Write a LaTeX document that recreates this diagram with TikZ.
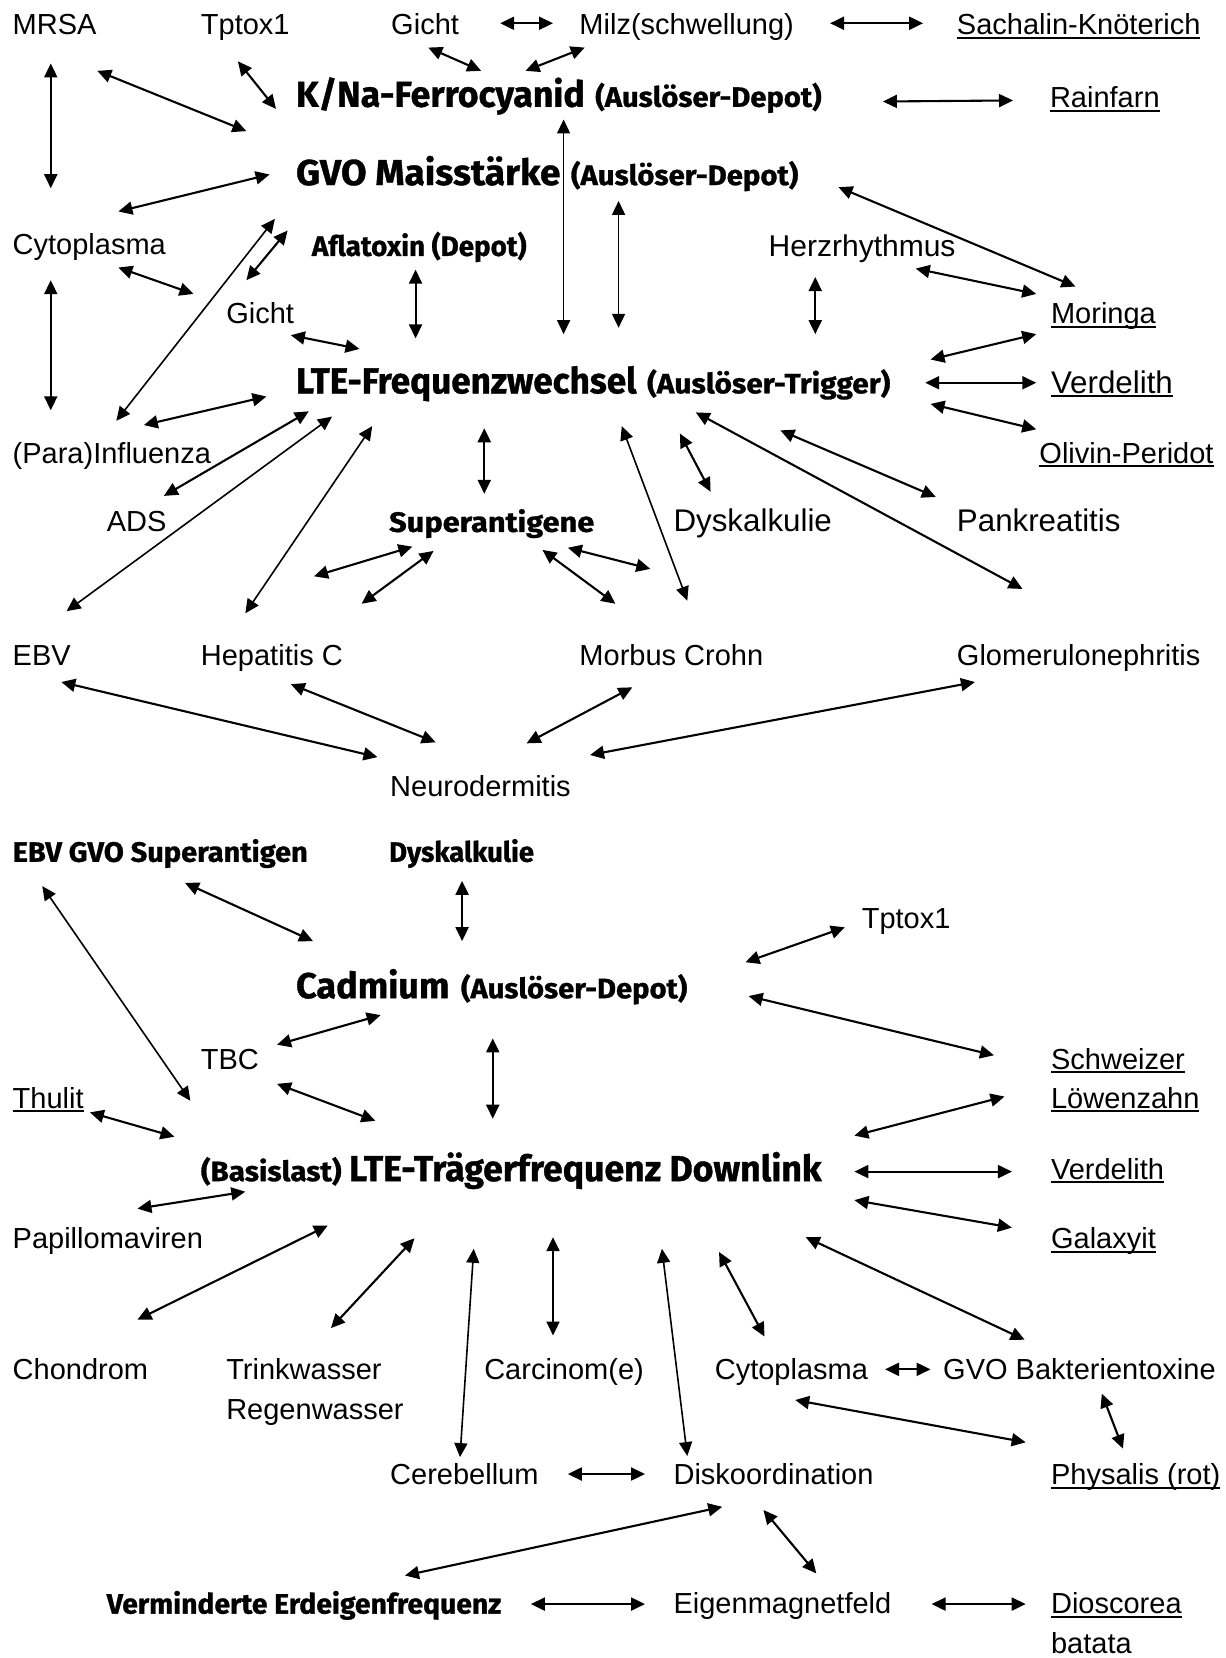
\documentclass[tikz,border=0pt]{standalone}
\usepackage{fontspec}
\setmainfont{Liberation Sans}
\newfontfamily\boldfam{Fira Sans}[BoldFeatures={FakeBold=1}]
\usepackage{graphicx}
\usetikzlibrary{arrows.meta}
\newdimen\du \du=1.057pt
\newcommand\myul[1]{\setbox0\hbox{#1}\rlap{\rule[-4pt]{\wd0}{2pt}}\box0}
\newcommand\bigb[2]{\resizebox{#1\du}{\height}{\boldfam\bfseries\fontsize{36}{40}\selectfont #2}}
\newcommand\smb[2]{\resizebox{#1\du}{\height}{\boldfam\bfseries\fontsize{28}{31}\selectfont #2}}
\newcommand\mknode[5]{\node[#1] (#2) at (#3,#4) {#5};%
  \expandafter\def\csname pxX#2\endcsname{#3}\expandafter\def\csname pyX#2\endcsname{#4}}
\newcommand\ep[3]{([shift={(#2-\csname pxX#1\endcsname,#3-\csname pyX#1\endcsname)}]#1.base west)}
\begin{document}
\begin{tikzpicture}[x=1.057pt,y=-1.057pt,
  lab/.style={anchor=base west,inner sep=0pt,outer sep=0pt,font={\fontsize{29}{35}\selectfont}},
  labw/.style={lab,font={\fontsize{31.3}{35}\selectfont}},
  labm/.style={lab,font={\fontsize{30}{35}\selectfont}},
  blab/.style={anchor=base west,inner sep=0pt,outer sep=0pt},
  arr/.style={{Triangle[length=14pt,width=13pt]}-{Triangle[length=14pt,width=13pt]},line width=2.1pt},
  arrt/.style={arr,line width=1.6pt}]
\fill[white] (0,0) rectangle (1159,1568);
\useasboundingbox (0,0) rectangle (1159,1568);
% ---------- upper part ----------
\mknode{lab}{mrsa}{12}{33}{MRSA}
\mknode{lab}{tptox}{190}{33}{Tptox1}
\mknode{lab}{gicht1}{370}{33}{Gicht}
\mknode{lab}{milz}{548}{33}{Milz(schwellung)}
\mknode{lab}{sach}{905}{33}{\myul{Sachalin-Knöterich}}
\mknode{blab}{kna}{280}{101}{\bigb{273}{K/Na-Ferrocyanid}\hspace{10\du}\smb{214}{(Auslöser-Depot)}}
\mknode{lab}{rain}{993}{102}{\myul{Rainfarn}}
\mknode{blab}{gvo}{280}{175}{\bigb{250}{GVO Maisstärke}\hspace{10\du}\smb{215}{(Auslöser-Depot)}}
\mknode{lab}{cyto1}{12}{241}{Cytoplasma}
\mknode{blab}{afla}{295}{242}{\smb{203}{Aflatoxin (Depot)}}
\mknode{labm}{herz}{727}{243}{Herzrhythmus}
\mknode{lab}{gicht2}{214}{306}{Gicht}
\mknode{lab}{moringa}{994}{306}{\myul{Moringa}}
\mknode{blab}{lte1}{280}{372}{\bigb{322}{LTE-Frequenzwechsel}\hspace{10\du}\smb{230}{(Auslöser-Trigger)}}
\mknode{labw}{verd1}{994}{372}{\myul{Verdelith}}
\mknode{lab}{para}{12}{438}{(Para)Influenza}
\mknode{lab}{olivin}{983}{438}{\myul{Olivin-Peridot}}
\mknode{lab}{ads}{101}{503}{ADS}
\mknode{blab}{super}{368}{503}{\smb{194}{Superantigene}}
\mknode{labw}{dysk1}{637}{503}{Dyskalkulie}
\mknode{labw}{pank}{905}{503}{Pankreatitis}
\mknode{lab}{ebv}{12}{629}{EBV}
\mknode{lab}{hepc}{190}{629}{Hepatitis C}
\mknode{lab}{morbus}{548}{629}{Morbus Crohn}
\mknode{lab}{glom}{905}{629}{Glomerulonephritis}
\mknode{lab}{neuro}{369}{753}{Neurodermitis}
\coordinate (f1) at (297,545);
\coordinate (f2) at (342,571);
\coordinate (f3) at (615,538);
% ---------- lower part ----------
\mknode{blab}{ebvgvo}{12}{815}{\smb{279}{EBV GVO Superantigen}}
\mknode{blab}{dysk2}{368}{815}{\smb{137}{Dyskalkulie}}
\mknode{lab}{tptox2}{815}{878}{Tptox1}
\mknode{blab}{cadm}{280}{944}{\bigb{145}{Cadmium}\hspace{11\du}\smb{214}{(Auslöser-Depot)}}
\mknode{lab}{tbc}{190}{1011}{TBC}
\mknode{lab}{schw1}{994}{1011}{\myul{Schweizer}}
\mknode{lab}{schw2}{994}{1048}{\myul{Löwenzahn}}
\mknode{lab}{thulit}{12}{1048}{\myul{Thulit}}
\mknode{blab}{basis}{190}{1117}{\smb{133}{(Basislast)}\hspace{7\du}\bigb{447}{LTE-Trägerfrequenz Downlink}}
\mknode{lab}{verd2}{994}{1115}{\myul{Verdelith}}
\mknode{lab}{papil}{12}{1181}{Papillomaviren}
\mknode{lab}{galax}{994}{1181}{\myul{Galaxyit}}
\mknode{lab}{chond}{12}{1305}{Chondrom}
\mknode{lab}{trink}{214}{1305}{Trinkwasser}
\mknode{lab}{regen}{214}{1342}{Regenwasser}
\mknode{lab}{carc}{458}{1305}{Carcinom(e)}
\mknode{lab}{cyto2}{676}{1305}{Cytoplasma}
\mknode{lab}{bakt}{892}{1305}{GVO Bakterientoxine}
\mknode{lab}{cereb}{369}{1404}{Cerebellum}
\mknode{lab}{disk}{637}{1404}{Diskoordination}
\mknode{lab}{phys}{994}{1404}{\myul{Physalis (rot)}}
\mknode{blab}{verm}{101}{1526}{\smb{373}{Verminderte Erdeigenfrequenz}}
\mknode{lab}{eigen}{637}{1526}{Eigenmagnetfeld}
\mknode{lab}{dios}{994}{1526}{\myul{Dioscorea}}
\mknode{lab}{batata}{994}{1564}{batata}
% ---------- connectors, upper ----------
\draw[arr] \ep{gicht1}{473}{22} -- \ep{milz}{523}{22};
\draw[arr] \ep{milz}{785}{22} -- \ep{sach}{873}{22};
\draw[arr] \ep{mrsa}{48}{60} -- \ep{cyto1}{48}{178};
\draw[arr] \ep{mrsa}{92}{67} -- \ep{kna}{233}{124};
\draw[arr] \ep{tptox}{225}{58} -- \ep{kna}{261}{103};
\draw[arr] \ep{gicht1}{405}{45} -- \ep{kna}{455}{67};
\draw[arr] \ep{milz}{553}{45} -- \ep{kna}{497}{67};
\draw[arr] \ep{kna}{835}{96} -- \ep{rain}{958}{95};
\draw[arr] \ep{gvo}{255}{165} -- \ep{cyto1}{112}{200};
\draw[arrt] \ep{gvo}{260}{207} -- \ep{para}{110}{398};
\draw[arr] \ep{gvo}{272}{218} -- \ep{gicht2}{233}{265};
\draw[arr] \ep{cyto1}{112}{253} -- \ep{gicht2}{183}{278};
\draw[arr] \ep{cyto1}{48}{265} -- \ep{para}{48}{388};
\draw[arr] \ep{afla}{393}{255} -- \ep{lte1}{393}{320};
\draw[arrt] \ep{kna}{533}{113} -- \ep{lte1}{533}{316};
\draw[arrt] \ep{gvo}{585}{190} -- \ep{lte1}{585}{310};
\draw[arr] \ep{gvo}{793}{177} -- \ep{moringa}{1017}{271};
\draw[arr] \ep{herz}{771}{262} -- \ep{lte1}{771}{316};
\draw[arr] \ep{herz}{866}{254} -- \ep{moringa}{980}{278};
\draw[arr] \ep{gicht2}{275}{317} -- \ep{lte1}{340}{330};
\draw[arr] \ep{lte1}{880}{340} -- \ep{moringa}{980}{316};
\draw[arr] \ep{lte1}{875}{362} -- \ep{verd1}{980}{362};
\draw[arr] \ep{lte1}{880}{382} -- \ep{olivin}{980}{406};
\draw[arr] \ep{lte1}{252}{375} -- \ep{para}{136}{402};
\draw[arr] \ep{lte1}{292}{389} -- \ep{ads}{155}{469};
\draw[arrt] \ep{lte1}{314}{394} -- \ep{ebv}{63}{578};
\draw[arrt] \ep{lte1}{352}{403} -- \ep{hepc}{232}{580};
\draw[arr] \ep{lte1}{458}{405} -- \ep{super}{458}{467};
\draw[arrt] \ep{lte1}{588}{403} -- \ep{morbus}{650}{568};
\draw[arr] \ep{lte1}{643}{410} -- \ep{dysk1}{672}{465};
\draw[arr] \ep{lte1}{738}{407} -- \ep{pank}{885}{470};
\draw[arr] \ep{lte1}{658}{390} -- \ep{glom}{967}{557};
\draw[arr] \ep{super}{390}{517} -- (f1);
\draw[arr] \ep{super}{410}{521} -- (f2);
\draw[arr] \ep{super}{537}{518} -- (f3);
\draw[arr] \ep{super}{513}{520} -- \ep{morbus}{582}{571};
\draw[arr] \ep{ebv}{58}{645} -- \ep{neuro}{357}{716};
\draw[arr] \ep{hepc}{275}{647} -- \ep{neuro}{412}{702};
\draw[arr] \ep{morbus}{598}{650} -- \ep{neuro}{498}{703};
\draw[arr] \ep{glom}{922}{645} -- \ep{neuro}{558}{714};
% ---------- connectors, lower ----------
\draw[arrt] \ep{ebvgvo}{40}{838} -- \ep{basis}{180}{1041};
\draw[arr] \ep{ebvgvo}{175}{835} -- \ep{cadm}{296}{890};
\draw[arr] \ep{dysk2}{437}{833} -- \ep{cadm}{437}{890};
\draw[arr] \ep{tptox2}{799}{877} -- \ep{cadm}{705}{910};
\draw[arr] \ep{cadm}{708}{942} -- \ep{schw1}{940}{998};
\draw[arr] \ep{cadm}{360}{960} -- \ep{tbc}{262}{988};
\draw[arr] \ep{cadm}{466}{982} -- \ep{basis}{466}{1058};
\draw[arr] \ep{tbc}{262}{1025} -- \ep{basis}{355}{1060};
\draw[arr] \ep{thulit}{85}{1052} -- \ep{basis}{165}{1075};
\draw[arr] \ep{basis}{808}{1074} -- \ep{schw2}{950}{1037};
\draw[arr] \ep{basis}{808}{1108} -- \ep{verd2}{957}{1108};
\draw[arr] \ep{basis}{808}{1135} -- \ep{galax}{957}{1161};
\draw[arr] \ep{basis}{232}{1127} -- \ep{papil}{130}{1143};
\draw[arr] \ep{basis}{310}{1159} -- \ep{chond}{130}{1248};
\draw[arr] \ep{basis}{392}{1171} -- \ep{trink}{313}{1256};
\draw[arrt] \ep{basis}{448}{1181} -- \ep{cereb}{435}{1378};
\draw[arr] \ep{basis}{523}{1170} -- \ep{carc}{523}{1263};
\draw[arrt] \ep{basis}{626}{1181} -- \ep{disk}{650}{1377};
\draw[arr] \ep{basis}{680}{1184} -- \ep{cyto2}{723}{1264};
\draw[arr] \ep{basis}{762}{1170} -- \ep{bakt}{969}{1267};
\draw[arr] \ep{cyto2}{837}{1295} -- \ep{bakt}{880}{1295};
\draw[arr] \ep{cyto2}{752}{1324} -- \ep{phys}{970}{1364};
\draw[arr] \ep{bakt}{1042}{1318} -- \ep{phys}{1062}{1370};
\draw[arr] \ep{cereb}{537}{1394} -- \ep{disk}{610}{1394};
\draw[arr] \ep{disk}{683}{1425} -- \ep{verm}{383}{1490};
\draw[arr] \ep{disk}{722}{1428} -- \ep{eigen}{772}{1488};
\draw[arr] \ep{verm}{502}{1517} -- \ep{eigen}{610}{1517};
\draw[arr] \ep{eigen}{881}{1517} -- \ep{dios}{970}{1517};
\end{tikzpicture}
\end{document}
